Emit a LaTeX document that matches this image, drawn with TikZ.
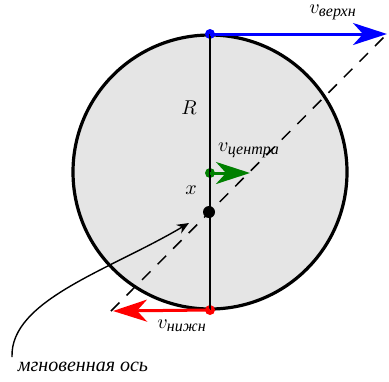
\documentclass[tikz,border=0pt]{standalone}
\usepackage{fontspec}
\newfontfamily\cyrfont{Liberation Serif}
\usetikzlibrary{arrows.meta}
\newcommand{\cyrsub}[1]{\mbox{\cyrfont\itshape\footnotesize #1}}
\tikzset{
  velarrow/.style={line width=1.5pt,-{Stealth[length=17pt,width=11pt,inset=5pt]}},
  dotmark/.style={circle,fill,inner sep=0pt,minimum size=5pt}
}
\begin{document}
\begin{tikzpicture}[x=0.5pt,y=-0.5pt]
\useasboundingbox (0,0) rectangle (389,381);

\draw[line width=1.6pt,fill=gray!20] (210,172) circle (137);

\coordinate (lowend) at (111,311);
\coordinate (highend) at (388,33);
\draw[line width=0.75pt,dash pattern=on 6pt off 5pt] (lowend)--(highend);

\node[dotmark,blue] (top) at (210,34) {};
\node[dotmark,green!50!black] (mid) at (210,173) {};
\node[dotmark,black,minimum size=6pt] (axis) at (209,212) {};
\node[dotmark,red] (bottom) at (210,310) {};

\draw[line width=0.7pt] (top.center)--(bottom.center);

\coordinate (toptip) at (387,34);
\coordinate (midtip) at (250,173);
\coordinate (bottip) at (113,311);
\draw[velarrow,blue] (top.center)--(toptip);
\draw[velarrow,green!50!black] (mid.center)--(midtip);
\draw[velarrow,red] (bottom.center)--(bottip);

\node (vtop) at (333,12) {$v_{\cyrsub{верхн}}$};
\node (radius) at (189,108) {$R$};
\node (vmid) at (249,150) {$v_{\cyrsub{центра}}$};
\node (xlab) at (191,190) {$x$};
\node (vbot) at (182,326) {$v_{\cyrsub{нижн}}$};
\node (axislab) at (83,367) {\cyrfont\itshape мгновенная ось};

\coordinate (curvetip) at (189,223);
\draw[line width=0.7pt,-{Stealth[length=6pt,width=5pt]}] (12,357) .. controls (10,300) and (110,270) .. (curvetip);

\end{tikzpicture}
\end{document}
